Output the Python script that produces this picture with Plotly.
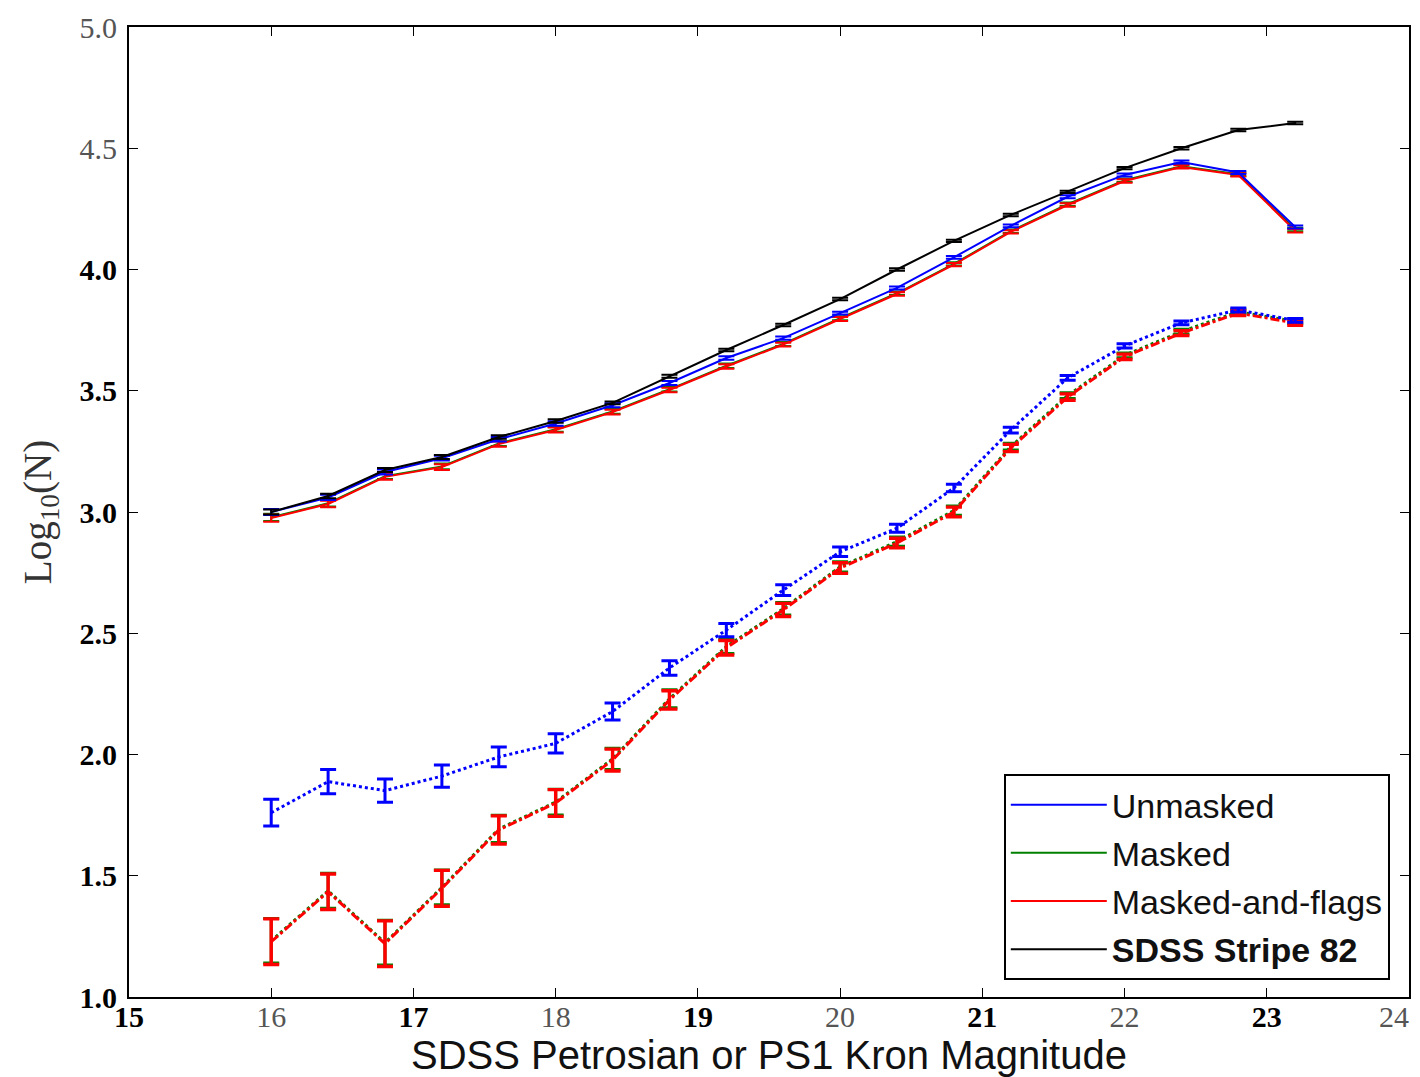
import plotly.graph_objects as go

# ---------------- data ----------------
mag = [16.0, 16.4, 16.8, 17.2, 17.6, 18.0, 18.4, 18.8, 19.2, 19.6,
       20.0, 20.4, 20.8, 21.2, 21.6, 22.0, 22.4, 22.8, 23.2]

# upper (solid) curves
sdss_s82 = [3.000, 3.066, 3.173, 3.227, 3.309, 3.375, 3.450, 3.560, 3.668, 3.771,
            3.878, 4.000, 4.118, 4.225, 4.320, 4.418, 4.500, 4.575, 4.604]
sdss_s82_err = [0.010, 0.009, 0.008, 0.008, 0.007, 0.007, 0.006, 0.006, 0.005, 0.005,
                0.005, 0.005, 0.005, 0.005, 0.005, 0.005, 0.005, 0.005, 0.005]
unmasked_a = [3.000, 3.060, 3.165, 3.222, 3.300, 3.365, 3.440, 3.532, 3.635, 3.717,
              3.820, 3.924, 4.050, 4.180, 4.300, 4.390, 4.443, 4.400, 4.175]
unmasked_a_err = [0.012, 0.011, 0.010, 0.010, 0.009, 0.009, 0.008, 0.008, 0.007, 0.007,
                  0.006, 0.006, 0.006, 0.006, 0.006, 0.006, 0.006, 0.006, 0.006]
masked_a = [2.978, 3.036, 3.148, 3.188, 3.283, 3.341, 3.415, 3.506, 3.603, 3.693,
            3.799, 3.902, 4.023, 4.158, 4.269, 4.368, 4.426, 4.393, 4.165]
masked_a_err = [0.015, 0.013, 0.012, 0.012, 0.011, 0.010, 0.010, 0.009, 0.009, 0.008,
                0.008, 0.007, 0.007, 0.007, 0.007, 0.007, 0.007, 0.007, 0.007]
flags_a = [2.975, 3.033, 3.145, 3.185, 3.280, 3.338, 3.412, 3.503, 3.600, 3.690,
           3.796, 3.899, 4.020, 4.155, 4.266, 4.365, 4.423, 4.390, 4.160]
flags_a_err = [0.015, 0.013, 0.012, 0.012, 0.011, 0.010, 0.010, 0.009, 0.009, 0.008,
               0.008, 0.007, 0.007, 0.007, 0.007, 0.007, 0.007, 0.007, 0.007]

# lower (dotted / dash-dot) curves
unmasked_b = [1.760, 1.888, 1.851, 1.911, 1.990, 2.046, 2.177, 2.357, 2.513, 2.678,
              2.836, 2.933, 3.099, 3.338, 3.553, 3.685, 3.780, 3.833, 3.790]
unmasked_b_err = [0.055, 0.050, 0.048, 0.046, 0.041, 0.040, 0.035, 0.030, 0.027, 0.022,
                  0.020, 0.017, 0.015, 0.012, 0.010, 0.009, 0.008, 0.008, 0.008]
masked_b = [1.232, 1.438, 1.224, 1.452, 1.693, 1.804, 1.982, 2.230, 2.445, 2.601,
            2.774, 2.878, 3.006, 3.270, 3.480, 3.646, 3.744, 3.826, 3.786]
masked_b_err = [0.092, 0.072, 0.092, 0.072, 0.056, 0.053, 0.044, 0.037, 0.029, 0.026,
                0.021, 0.019, 0.019, 0.014, 0.012, 0.010, 0.010, 0.010, 0.010]
flags_b = [1.228, 1.434, 1.220, 1.448, 1.689, 1.800, 1.977, 2.225, 2.440, 2.596,
           2.769, 2.872, 3.000, 3.264, 3.474, 3.640, 3.738, 3.820, 3.780]
flags_b_err = [0.094, 0.073, 0.094, 0.074, 0.058, 0.055, 0.045, 0.038, 0.030, 0.027,
               0.022, 0.020, 0.020, 0.015, 0.013, 0.011, 0.010, 0.010, 0.010]

x_ticks = [15, 16, 17, 18, 19, 20, 21, 22, 23, 24]
x_ticklabels = ["15", "16", "17", "18", "19", "20", "21", "22", "23", "24"]
x_bold = [True, False, True, False, True, False, True, False, True, False]
y_ticks = [1.0, 1.5, 2.0, 2.5, 3.0, 3.5, 4.0, 4.5, 5.0]
y_ticklabels = ["1.0", "1.5", "2.0", "2.5", "3.0", "3.5", "4.0", "4.5", "5.0"]
y_bold = [True, True, True, True, True, True, True, False, False]

BLUE = "#0000ff"
GREEN = "#008000"
RED = "#ff0000"
BLACK = "#000000"


def fmt(labels, bold):
    out = []
    for t, b in zip(labels, bold):
        if b:
            out.append("<b>" + t + "</b>")
        else:
            out.append('<span style="color:#555555">' + t + "</span>")
    return out


x_text = fmt(x_ticklabels, x_bold)
# keep the last label (at the right edge) inside the page
x_text[-1] = x_text[-1] + "\u00a0\u00a0\u00a0\u00a0"

fig = go.Figure()


def add(y, err, color, dash, width, ewidth, name, show, rank, group, cap):
    fig.add_trace(go.Scatter(
        x=mag, y=y, mode="lines", name=name, showlegend=show,
        legendgroup=group, legendrank=rank,
        line=dict(color=color, dash=dash, width=width),
        error_y=dict(type="data", array=err, visible=True, color=color,
                     thickness=ewidth, width=cap),
        hoverinfo="x+y",
    ))


# lower curves
add(masked_b, masked_b_err, GREEN, "dot", 3, 3, "Masked", False, 2, "g2", 8)
add(flags_b, flags_b_err, RED, "dashdot", 3, 3.4, "Masked-and-flags", False, 3, "g3", 8)
add(unmasked_b, unmasked_b_err, BLUE, "dot", 3, 3, "Unmasked", False, 1, "g1", 8)
# upper curves
add(masked_a, masked_a_err, GREEN, "solid", 2, 2, "Masked", True, 2, "g2", 8)
add(flags_a, flags_a_err, RED, "solid", 2, 2, "Masked-and-flags", True, 3, "g3", 8)
add(unmasked_a, unmasked_a_err, BLUE, "solid", 2, 2, "Unmasked", True, 1, "g1", 8)
add(sdss_s82, sdss_s82_err, BLACK, "solid", 2, 2, "<b>SDSS Stripe 82</b>", True, 4, "g4", 8)

serif = "Liberation Serif, DejaVu Serif, serif"
sans = "Liberation Sans, Arial, sans-serif"

# the page adds an 8px body margin, so the figure is sized to fit the window
fig.update_layout(
    width=1412, height=1069,
    margin=dict(l=121, r=11, t=19, b=80, autoexpand=False),
    paper_bgcolor="white", plot_bgcolor="white",
    showlegend=True,
    legend=dict(
        x=0.985, y=0.0175, xanchor="right", yanchor="bottom",
        bgcolor="white", bordercolor="black", borderwidth=2,
        font=dict(family=sans, size=34, color="#111111"),
        tracegroupgap=1, traceorder="grouped",
        itemwidth=96,
    ),
    xaxis=dict(
        range=[15, 24], tickmode="array", tickvals=x_ticks,
        ticktext=x_text,
        showgrid=False, zeroline=False, automargin=False,
        showline=True, linecolor="black", linewidth=2, mirror="allticks",
        ticks="inside", ticklen=9, tickwidth=1, tickcolor="black",
        ticklabelstandoff=-8, ticklabeloverflow="allow",
        tickfont=dict(family=serif, size=30, color="black"),
        title=dict(text="SDSS Petrosian or PS1 Kron Magnitude",
                   font=dict(family=sans, size=40, color="#111111"),
                   standoff=0),
    ),
    yaxis=dict(
        range=[1.0, 5.0], tickmode="array", tickvals=y_ticks,
        ticktext=fmt(y_ticklabels, y_bold),
        showgrid=False, zeroline=False, automargin=False,
        showline=True, linecolor="black", linewidth=2, mirror="allticks",
        ticks="inside", ticklen=9, tickwidth=1, tickcolor="black",
        ticklabelstandoff=4, ticklabeloverflow="allow",
        tickfont=dict(family=serif, size=30, color="black"),
        title=dict(text="Log<sub>10</sub>(N)",
                   font=dict(family=serif, size=39, color="#333333"),
                   standoff=16),
    ),
)

fig.write_html("out.html")
